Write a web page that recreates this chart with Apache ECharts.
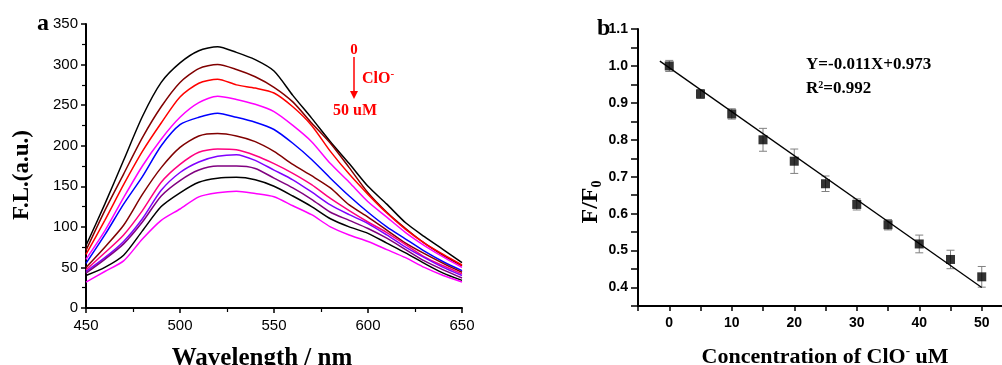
<!DOCTYPE html>
<html>
<head>
<meta charset="utf-8">
<script src="https://cdn.jsdelivr.net/npm/echarts@6/dist/echarts.min.js"></script>
<style>
html,body{margin:0;padding:0;background:#fff;}
#chart{width:1002px;height:365px;}
</style>
</head>
<body>
<div id="chart"></div>
<script>
// ---------- Panel a: fluorescence spectra ----------
const wavelengths = [450,460,470,480,490,500,510,520,530,540,550,560,570,580,590,600,610,620,630,640,650];
const spec1  = [77,128,182,236,278,302,317,322,315,306,292,262,234,205,178,150,128,105,88,72,56];
const spec2  = [71,120,165,210,248,278,295,300,294,285,272,254,228,203,173,142,118,98,80,65,52];
const spec3  = [66,108,152,193,228,260,277,282,275,271,265,248,225,193,165,140,117,97,80,66,53];
const spec4  = [60,95,136,175,208,235,253,261,257,251,242,225,205,178,155,131,112,93,77,63,50];
const spec5  = [55,90,128,162,200,226,235,240,235,229,220,203,183,160,138,118,100,85,70,57,46];
const spec6  = [50,75,102,140,173,198,212,215,212,205,193,177,163,148,127,112,96,80,67,55,44];
const spec7  = [47,68,90,120,155,177,192,196,195,188,178,166,152,135,120,106,93,78,63,52,42];
const spec8  = [45,62,82,110,145,167,180,187,189,182,170,158,143,127,115,104,90,75,62,50,40];
const spec9  = [43,60,79,106,138,157,170,175,175,172,160,148,134,118,108,98,86,72,58,47,37];
const spec10 = [40,50,65,95,125,142,155,160,161,158,150,138,125,110,100,92,80,68,55,43,34];
const spec11 = [32,45,58,85,108,122,137,142,144,141,137,126,115,100,90,82,72,62,50,40,32];
const spectra = [spec1,spec2,spec3,spec4,spec5,spec6,spec7,spec8,spec9,spec10,spec11];
const specColors = ['#000000','#800000','#ff0000','#ff00ff','#0000ff','#800000','#ff0080','#8000ff','#800080','#000000','#ff00ff'];

// ---------- Panel b: calibration ----------
const conc = [0,5,10,15,20,25,30,35,40,45,50];
const ratio = [1.0,0.924,0.870,0.800,0.742,0.681,0.625,0.570,0.518,0.476,0.429];
const ratioErr = [0.015,0.012,0.014,0.031,0.033,0.021,0.015,0.014,0.024,0.025,0.028];
const fitX = [-1.5,50];
const fitY = [1.013,0.40];

const serif = '"Liberation Serif","Times New Roman",serif';
const sans = '"Liberation Sans",Arial,sans-serif';

const chart = echarts.init(document.getElementById('chart'));

const series = [];
spectra.forEach((arr,k)=>{
  series.push({
    type:'line', xAxisIndex:0, yAxisIndex:0,
    data: wavelengths.map((w,i)=>[w,arr[i]]),
    symbol:'none', smooth:0.25,
    lineStyle:{color:specColors[k], width:1.5},
    silent:true, z:2
  });
});

series.push({
  type:'custom', xAxisIndex:1, yAxisIndex:1,
  data: conc.map((c,i)=>[c, ratio[i]-ratioErr[i], ratio[i]+ratioErr[i]]),
  renderItem:function(params, api){
    const lo = api.coord([api.value(0), api.value(1)]);
    const hi = api.coord([api.value(0), api.value(2)]);
    const w = 4;
    const st = {stroke:'#808080', lineWidth:1};
    return {type:'group', children:[
      {type:'line', shape:{x1:lo[0],y1:lo[1],x2:hi[0],y2:hi[1]}, style:st},
      {type:'line', shape:{x1:lo[0]-w,y1:lo[1],x2:lo[0]+w,y2:lo[1]}, style:st},
      {type:'line', shape:{x1:hi[0]-w,y1:hi[1],x2:hi[0]+w,y2:hi[1]}, style:st}
    ]};
  },
  z:3, silent:true
});
series.push({
  type:'line', xAxisIndex:1, yAxisIndex:1,
  data: fitX.map((x,i)=>[x,fitY[i]]),
  symbol:'none', lineStyle:{color:'#000', width:1.3}, z:4, silent:true
});
series.push({
  type:'scatter', xAxisIndex:1, yAxisIndex:1,
  data: conc.map((c,i)=>[c,ratio[i]]),
  symbol:'rect', symbolSize:9, itemStyle:{color:'#000'}, z:5, silent:true
});

const axisLine = {show:true, onZero:false, lineStyle:{color:'#000', width:2}};

chart.setOption({
  animation:false,
  backgroundColor:'#fff',
  grid:[
    {left:86, top:24, width:376, height:284, containLabel:false, outerBoundsMode:'none'},
    {left:638, top:29, width:375, height:277, containLabel:false, outerBoundsMode:'none'}
  ],
  xAxis:[
    {type:'value', gridIndex:0, min:450, max:650, interval:50,
     axisLine:axisLine, axisTick:{show:true, length:5, lineStyle:{width:1.5,color:'#000'}},
     minorTick:{show:true, splitNumber:2, length:4, lineStyle:{color:'#000', width:1.2}},
     splitLine:{show:false},
     axisLabel:{color:'#000', fontSize:15, fontFamily:sans, margin:10}},
    {type:'value', gridIndex:1, min:-5, max:55, interval:5,
     axisLine:axisLine, axisTick:{show:true, length:5, lineStyle:{width:1.5,color:'#000'}},
     splitLine:{show:false},
     axisLabel:{color:'#000', fontSize:14, fontWeight:'bold', fontFamily:sans, margin:10,
       formatter:function(v){ return (v>=0 && v<=50 && Math.round(v)%10===0) ? String(Math.round(v)) : ''; }}}
  ],
  yAxis:[
    {type:'value', gridIndex:0, min:0, max:350, interval:50,
     axisLine:axisLine, axisTick:{show:true, length:5, lineStyle:{width:1.5,color:'#000'}},
     minorTick:{show:true, splitNumber:2, length:4, lineStyle:{color:'#000', width:1.2}},
     splitLine:{show:false},
     axisLabel:{color:'#000', fontSize:15, fontFamily:sans, margin:8}},
    {type:'value', gridIndex:1, min:0.35, max:1.1, interval:0.05,
     axisLine:axisLine, axisTick:{show:true, length:7, lineStyle:{width:1.5,color:'#000'}},
     splitLine:{show:false},
     axisLabel:{color:'#000', fontSize:14, fontWeight:'bold', fontFamily:sans, margin:10,
       formatter:function(v){ const r=Math.round(v*100); return (r%10===0) ? (r/100).toFixed(1) : ''; }}}
  ],
  series:series,
  graphic:[
    {type:'text', left:37, top:12, style:{text:'a', font:'bold 24px '+serif, fill:'#000'}},
    {type:'text', left:597, top:17, style:{text:'b', font:'bold 24px '+serif, fill:'#000'}},
    {type:'text', x:22, y:175, rotation:Math.PI/2, style:{text:'F.L.(a.u.)', font:'bold 23px '+serif, fill:'#000', align:'center', verticalAlign:'middle'}},
    {type:'text', x:262, y:359, style:{text:'Wavelength / nm', font:'bold 25px '+serif, fill:'#000', align:'center', verticalAlign:'middle'}},
    {type:'text', x:591, y:202, rotation:Math.PI/2, style:{
      text:'{m|F/F}{s|0}', align:'center', verticalAlign:'middle',
      rich:{m:{font:'bold 24px '+serif, fill:'#000'}, s:{font:'bold 14px '+serif, fill:'#000', padding:[12,0,0,0]}}}},
    {type:'text', x:825, y:357, style:{
      text:'{m|Concentration of ClO}{s|-}{m| uM}', align:'center', verticalAlign:'middle',
      rich:{m:{font:'bold 22px '+serif, fill:'#000'}, s:{font:'bold 13px '+serif, fill:'#000', padding:[0,0,11,0]}}}},
    {type:'text', left:806, top:56, style:{text:'Y=-0.011X+0.973', font:'bold 17px '+serif, fill:'#000'}},
    {type:'text', left:806, top:80, style:{
      text:'{m|R}{s|2}{m|=0.992}',
      rich:{m:{font:'bold 17px '+serif, fill:'#000'}, s:{font:'bold 10px '+serif, fill:'#000', padding:[0,0,8,0]}}}},
    {type:'text', x:354, y:50, style:{text:'0', font:'bold 15px '+serif, fill:'#ff0000', align:'center', verticalAlign:'middle'}},
    {type:'line', shape:{x1:354, y1:57, x2:354, y2:95}, style:{stroke:'#ff0000', lineWidth:1.5}},
    {type:'polygon', shape:{points:[[350,91],[358,91],[354,99]]}, style:{fill:'#ff0000'}},
    {type:'text', left:362, top:69, style:{
      text:'{m|ClO}{s|-}',
      rich:{m:{font:'bold 16px '+serif, fill:'#ff0000'}, s:{font:'bold 11px '+serif, fill:'#ff0000', padding:[0,0,9,0]}}}},
    {type:'text', left:333, top:103, style:{text:'50 uM', font:'bold 16px '+serif, fill:'#ff0000'}}
  ]
});
</script>
</body>
</html>
